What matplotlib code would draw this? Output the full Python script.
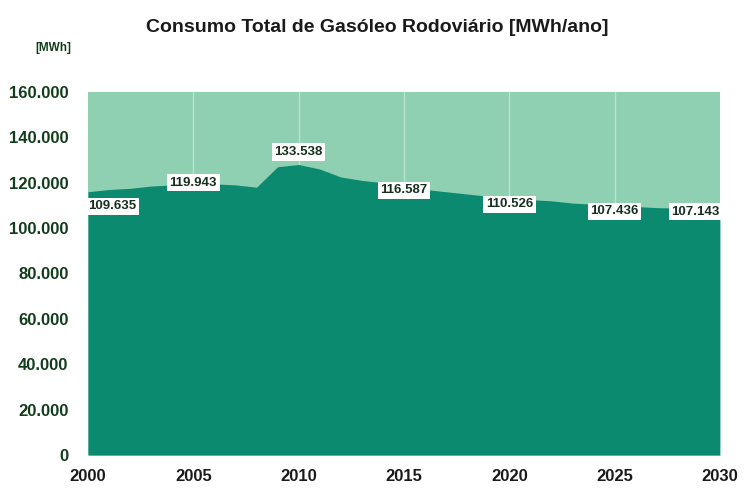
import matplotlib
import matplotlib.pyplot as plt

matplotlib.use('Agg')

# annual consumption [MWh/ano]
years = list(range(2000, 2031))
consumption = [116000, 117000, 117500, 118500, 119000, 120000, 119500, 119000,
               118000, 127000, 128000, 126000, 122500, 121000, 120000, 118000,
               117000, 116000, 115000, 114000, 113000, 112500, 112000, 111000,
               110500, 110000, 109500, 109000, 108800, 108600, 108500]

# data labels printed on the chart
label_years = [2000, 2005, 2010, 2015, 2020, 2025, 2030]
label_values = [109635, 119943, 133538, 116587, 110526, 107436, 107143]
label_texts = ['109.635', '119.943', '133.538', '116.587', '110.526', '107.436', '107.143']

y_ticks = [0, 20000, 40000, 60000, 80000, 100000, 120000, 140000, 160000]
x_ticks = [2000, 2005, 2010, 2015, 2020, 2025, 2030]

dark_teal = '#0b8a70'
light_green = '#8fd0b3'
label_green = '#123d1c'

plt.rcParams['font.family'] = ['Liberation Sans', 'DejaVu Sans']

fig = plt.figure(figsize=(7.46, 4.91), dpi=100)
ax = fig.add_axes([0.118, 0.073, 0.847, 0.740])
ax.set_facecolor(light_green)

# faint white verticals in the background band
for year in x_ticks[1:-1]:
    ax.axvline(year, color='white', lw=1.0, alpha=0.4, zorder=1)

ax.fill_between(years, consumption, 0, color=dark_teal, lw=0, zorder=2)

for year, value, text in zip(label_years, label_values, label_texts):
    ha = 'center'
    if year == years[0]:
        ha = 'left'
    elif year == years[-1]:
        ha = 'right'
    ax.text(year, value, text, ha=ha, va='center', fontsize=9.5, fontweight='bold',
            color='#15301f', zorder=4,
            bbox=dict(boxstyle='square,pad=0.2', fc='white', ec='none'))

ax.set_xlim(2000, 2030)
ax.set_ylim(0, 160000)
ax.set_yticks(y_ticks)
ax.set_yticklabels(['{:,}'.format(v).replace(',', '.') for v in y_ticks],
                   fontsize=12, fontweight='bold', color=label_green)
ax.set_xticks(x_ticks)
ax.set_xticklabels([str(y) for y in x_ticks], fontsize=12, fontweight='bold',
                   color='#1a1a1a')
ax.tick_params(axis='both', length=0)
ax.tick_params(axis='x', pad=10)
ax.tick_params(axis='y', pad=14)
for spine in ax.spines.values():
    spine.set_visible(False)

fig.text(0.506, 0.945, 'Consumo Total de Gasóleo Rodoviário [MWh/ano]',
         ha='center', va='center', fontsize=14, fontweight='bold', color='#1a1a1a')
fig.text(0.047, 0.902, '[MWh]', ha='left', va='center', fontsize=8.5,
         fontweight='bold', color=label_green)

fig.savefig('out.png', dpi=100)
